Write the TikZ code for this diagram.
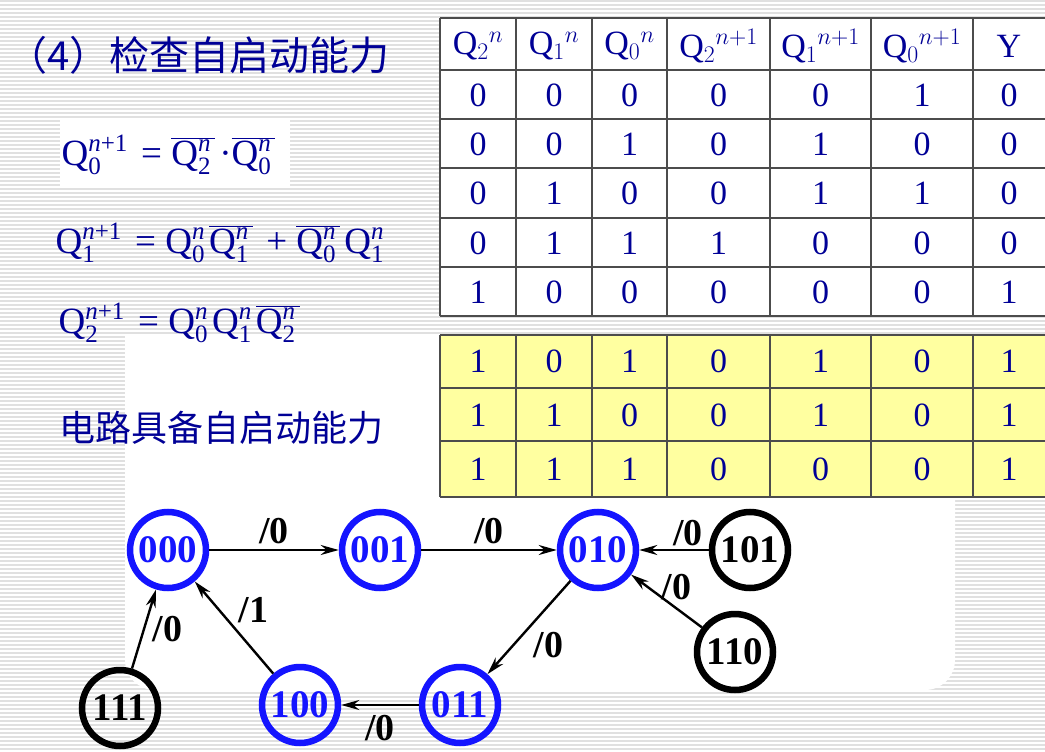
\RequirePackage{fix-cm}
\documentclass[tikz,border=0pt]{standalone}
\usepackage{fontspec}
\setmainfont{Liberation Serif}
\newfontfamily\cjk{Noto Sans CJK SC}
\usetikzlibrary{arrows.meta}
\definecolor{navy}{RGB}{0,0,150}
\definecolor{nblue}{RGB}{20,20,255}
\definecolor{yel}{RGB}{255,255,160}
\newcommand\Qq[2]{\mbox{Q}_{\mbox{\fontsize{25}{25}\selectfont#1}}^{\mbox{\fontsize{25}{25}\selectfont#2}}\mkern2mu}
\newcommand\Qb[2]{\overline{\Qq{#1}{#2}}\mkern2mu}
\tikzset{
 st/.style={circle,draw=nblue,line width=6.5pt,minimum size=76pt,inner sep=0pt,text=nblue,font=\fontsize{39}{39}\selectfont\bfseries},
 stx/.style={st,draw=black,text=black},
 tr/.style={-{Stealth[length=18pt,width=10pt]},line width=2.4pt},
 lab/.style={font=\fontsize{38}{38}\selectfont\bfseries},
 cell/.style={text=navy,font=\fontsize{34}{34}\selectfont},
 frm/.style={anchor=west,text=navy,font=\fontsize{37}{37}\selectfont},
}
\begin{document}
\begin{tikzpicture}[x=1pt,y=-1pt]
\useasboundingbox (0,0) rectangle (1045,752);
\fill[white] (0,0) rectangle (1045,752);
\foreach \i in {0,...,187} \draw[black!12,line width=1.2pt] (0,\i*4+1) -- (1045,\i*4+1);
\fill[white,rounded corners=30pt] (125,335) rectangle (955,690);
\fill[white] (125,335) rectangle (1045,500);
\fill[white] (60,118) rectangle (290,188);
% title
\node[anchor=west,text=navy,font=\cjk\fontsize{40}{40}\selectfont] (title) at (4,55) {（4）检查自启动能力};
% formulas
\node[frm] (f0) at (58,155) {$\Qq{0}{\textit{n}+1}\mbox{ = }\Qb{2}{\textit{n}}\mbox{·}\Qb{0}{\textit{n}}$};
\node[frm] (f1) at (52,243) {$\Qq{1}{\textit{n}+1}\mbox{ = }\Qq{0}{\textit{n}}\Qb{1}{\textit{n}}\mbox{ + }\Qb{0}{\textit{n}}\Qq{1}{\textit{n}}$};
\node[frm] (f2) at (55,323) {$\Qq{2}{\textit{n}+1}\mbox{ = }\Qq{0}{\textit{n}}\Qq{1}{\textit{n}}\Qb{2}{\textit{n}}$};
\node[anchor=west,text=navy,font=\cjk\fontsize{36}{36}\selectfont] (txt) at (56,428) {电路具备自启动能力};
% table 1
\fill[white] (440,18) rectangle (1045,316);
\foreach \x in {440,516,592,667,770,871,973} \draw[black!70,line width=1.2pt] (\x,18) -- (\x,316);
\foreach \y in {18,70,119,168,218,267,316} \draw[black!70,line width=1.2pt] (440,\y) -- (1045,\y);
\foreach \x/\t [count=\c] in {478/{Q$_2$$^n$},554/{Q$_1$$^n$},629.5/{Q$_0$$^n$},718.5/{Q$_2$$^{n+1}$},820.5/{Q$_1$$^{n+1}$},922/{Q$_0$$^{n+1}$},1009/Y}
 \node[cell] (h\c) at (\x,46) {\t};
\foreach \x/\vals [count=\c] in {478/{0,0,0,0,1},554/{0,0,1,1,0},629.5/{0,1,0,1,0},718.5/{0,0,0,1,0},820.5/{0,1,1,0,0},922/{1,0,1,0,0},1009/{0,0,0,0,1}}
 \foreach \v [count=\r] in \vals
  \node[cell] (a\c\r) at (\x,{95+49.3*(\r-1)}) {\v};
% table 2
\fill[yel] (440,335) rectangle (1045,497);
\foreach \x in {440,516,592,667,770,871,973} \draw[black!70,line width=1.2pt] (\x,335) -- (\x,497);
\foreach \y in {335,388,441,497} \draw[black!70,line width=1.2pt] (440,\y) -- (1045,\y);
\foreach \x/\vals [count=\c] in {478/{1,1,1},554/{0,1,1},629.5/{1,0,1},718.5/{0,0,0},820.5/{1,1,0},922/{0,0,0},1009/{1,1,1}}
 \foreach \v [count=\r] in \vals
  \node[cell] (b\c\r) at (\x,{361+54*(\r-1)}) {\v};
% states
\node[st] (s000) at (168,550) {000};
\node[st] (s001) at (380,550) {001};
\node[st] (s010) at (598,550) {010};
\node[stx] (s101) at (750,550) {101};
\node[stx] (s110) at (735,652) {110};
\node[st] (s011) at (460,705) {011};
\node[st] (s100) at (300,705) {100};
\node[stx] (s111) at (120,708) {111};
\draw[tr] (s000) -- node[lab,above=2pt]{/0} (s001);
\draw[tr] (s001) -- node[lab,above=2pt]{/0} (s010);
\draw[tr] (s101) -- node[lab,above=0pt,pos=0.3]{/0} (s010);
\draw[tr] (s110) -- node[lab,above right=-6pt,pos=0.55]{/0} (s010);
\draw[tr] (s010) -- node[lab,below right=0pt]{/0} (s011);
\draw[tr] (s011) -- node[lab,below=6pt]{/0} (s100);
\draw[tr] (s100) -- node[lab,above right=0pt]{/1} (s000);
\draw[tr] (s111) -- node[lab,right=4pt]{/0} (s000);
\end{tikzpicture}
\end{document}
